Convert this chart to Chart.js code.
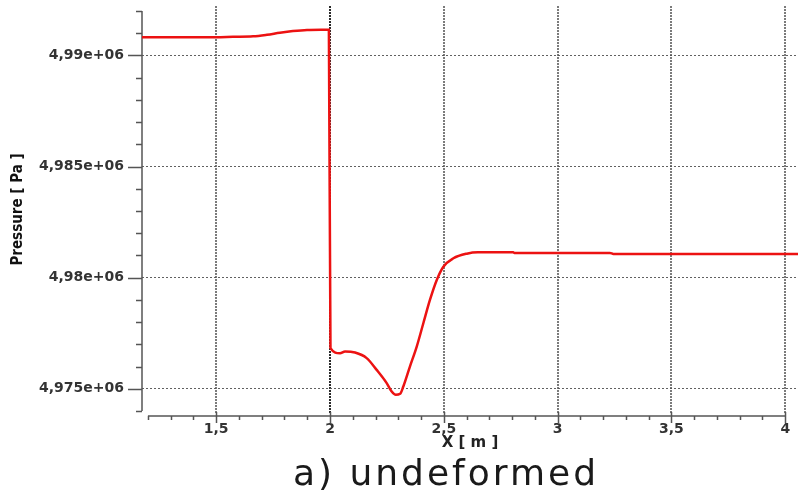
<!DOCTYPE html>
<html>
<head>
<meta charset="utf-8">
<script src="https://cdn.jsdelivr.net/npm/chart.js@4.4.0/dist/chart.umd.min.js"></script>
<style>
  html, body { margin: 0; padding: 0; background: #fff; }
  #wrap { width: 798px; height: 490px; }
</style>
</head>
<body>
<div id="wrap"><canvas id="myChart"></canvas></div>
<script>
// pressure along the pipe axis
const xPos = [1.174, 1.5, 1.574, 1.662, 1.723, 1.78, 1.837, 1.899, 1.96, 1.995,
              2.002, 2.044, 2.066, 2.11, 2.161, 2.205, 2.249, 2.271, 2.289, 2.308,
              2.322, 2.351, 2.381, 2.41, 2.439, 2.469, 2.498, 2.542, 2.601, 2.65,
              2.805, 2.81, 3.23, 3.245, 4.056];
const pressure = [4990820, 4990820, 4990840, 4990860, 4990930, 4991020, 4991095, 4991150, 4991160, 4991160,
                  4976830, 4976600, 4976680, 4976630, 4976380, 4975850, 4975256, 4974879, 4974730, 4974775,
                  4975103, 4976000, 4976900, 4977950, 4978998, 4979897, 4980494, 4980872, 4981080, 4981140,
                  4981140, 4981110, 4981110, 4981070, 4981070];

const xTicks = [1.5, 2, 2.5, 3, 3.5, 4];
const yTicks = [4975000, 4980000, 4985000, 4990000];
const xRange = [1.174, 4.056];
const yRange = [4973910, 4992225];

const fmt = v => String(v).replace('.', ',');

// axis lines with major/minor tick marks, drawn off the plot area
const axesPlugin = {
  id: 'axes',
  beforeDatasetsDraw(chart) {
    const c = chart.ctx, x = chart.scales.x, y = chart.scales.y;
    c.save();
    c.strokeStyle = '#555';
    c.lineWidth = 1.5;
    const ax = 142, ay = 416;
    c.beginPath();
    c.moveTo(ax, y.getPixelForValue(4992000));
    c.lineTo(ax, y.getPixelForValue(4974000));
    c.moveTo(x.getPixelForValue(1.2), ay);
    c.lineTo(x.getPixelForValue(4.0), ay);
    for (let i = 0; i <= 18; i++) {
      const v = 4974000 + i * 1000;
      const py = Math.round(y.getPixelForValue(v)) + 0.5;
      const major = v % 5000 === 0;
      c.moveTo(major ? 128 : 136, py);
      c.lineTo(ax, py);
    }
    for (let i = 0; i <= 28; i++) {
      const v = 1.2 + i * 0.1;
      const px = Math.round(x.getPixelForValue(v)) + 0.5;
      const major = Math.abs(v * 2 - Math.round(v * 2)) < 1e-6;
      c.moveTo(px, major ? 412 : ay);
      c.lineTo(px, major ? 423 : 420);
    }
    c.stroke();
    c.restore();
  },
  afterDraw(chart) {
    const c = chart.ctx;
    c.save();
    c.font = '36px "DejaVu Sans"';
    c.fillStyle = '#1a1a1a';
    c.textAlign = 'center';
    c.textBaseline = 'alphabetic';
    c.letterSpacing = '3px';
    c.fillText('a) undeformed', 446, 485);
    c.restore();
  }
};

const ctx = document.getElementById('myChart').getContext('2d');
const chart = new Chart(ctx, {
  type: 'line',
  data: {
    datasets: [{
      data: xPos.map((v, i) => ({ x: v, y: pressure[i] })),
      borderColor: 'rgb(236, 18, 18)',
      borderWidth: 2.5,
      pointRadius: 0,
      cubicInterpolationMode: 'monotone',
      fill: false
    }]
  },
  options: {
    responsive: true,
    maintainAspectRatio: false,
    animation: false,
    layout: { padding: { top: 6, bottom: 38, left: 0, right: 0 } },
    plugins: {
      legend: { display: false },
      tooltip: { enabled: false }
    },
    scales: {
      x: {
        type: 'linear',
        min: xRange[0],
        max: xRange[1],
        afterBuildTicks: s => { s.ticks = xTicks.map(v => ({ value: v })); },
        afterFit: s => { s.height = 39; s.paddingLeft = 0; s.paddingRight = 0; },
        grid: {
          drawTicks: false,
          lineWidth: 2,
          color: c => c.tick && c.tick.value === 2 ? 'rgba(20,20,20,0.9)' : 'rgba(100,100,100,0.85)'
        },
        border: { display: false, dash: [2, 1] },
        ticks: {
          padding: 8,
          maxRotation: 0,
          color: '#333',
          font: { family: 'DejaVu Sans', size: 14, weight: 'bold' },
          callback: v => fmt(v)
        },
        title: {
          display: true,
          text: 'X [ m ]',
          color: '#222',
          padding: { top: 0, bottom: 0 },
          font: { family: 'DejaVu Sans', size: 15, weight: 'bold' }
        }
      },
      y: {
        type: 'linear',
        min: yRange[0],
        max: yRange[1],
        afterBuildTicks: s => { s.ticks = yTicks.map(v => ({ value: v })); },
        afterFit: s => { s.width = 142; s.paddingTop = 0; s.paddingBottom = 0; },
        grid: {
          drawTicks: false,
          lineWidth: 1,
          color: 'rgba(80,80,80,0.9)'
        },
        border: { display: false, dash: [2, 2] },
        ticks: {
          padding: 18,
          color: '#333',
          font: { family: 'DejaVu Sans', size: 14, weight: 'bold' },
          callback: v => fmt(v / 1e6) + 'e+06'
        },
        title: {
          display: true,
          text: 'Pressure [ Pa ]',
          color: '#111',
          padding: { top: 9, bottom: 0 },
          font: { family: '"Liberation Sans Narrow", "DejaVu Sans Condensed", sans-serif', size: 15, weight: 'bold' }
        }
      }
    }
  },
  plugins: [axesPlugin]
});
</script>
</body>
</html>
